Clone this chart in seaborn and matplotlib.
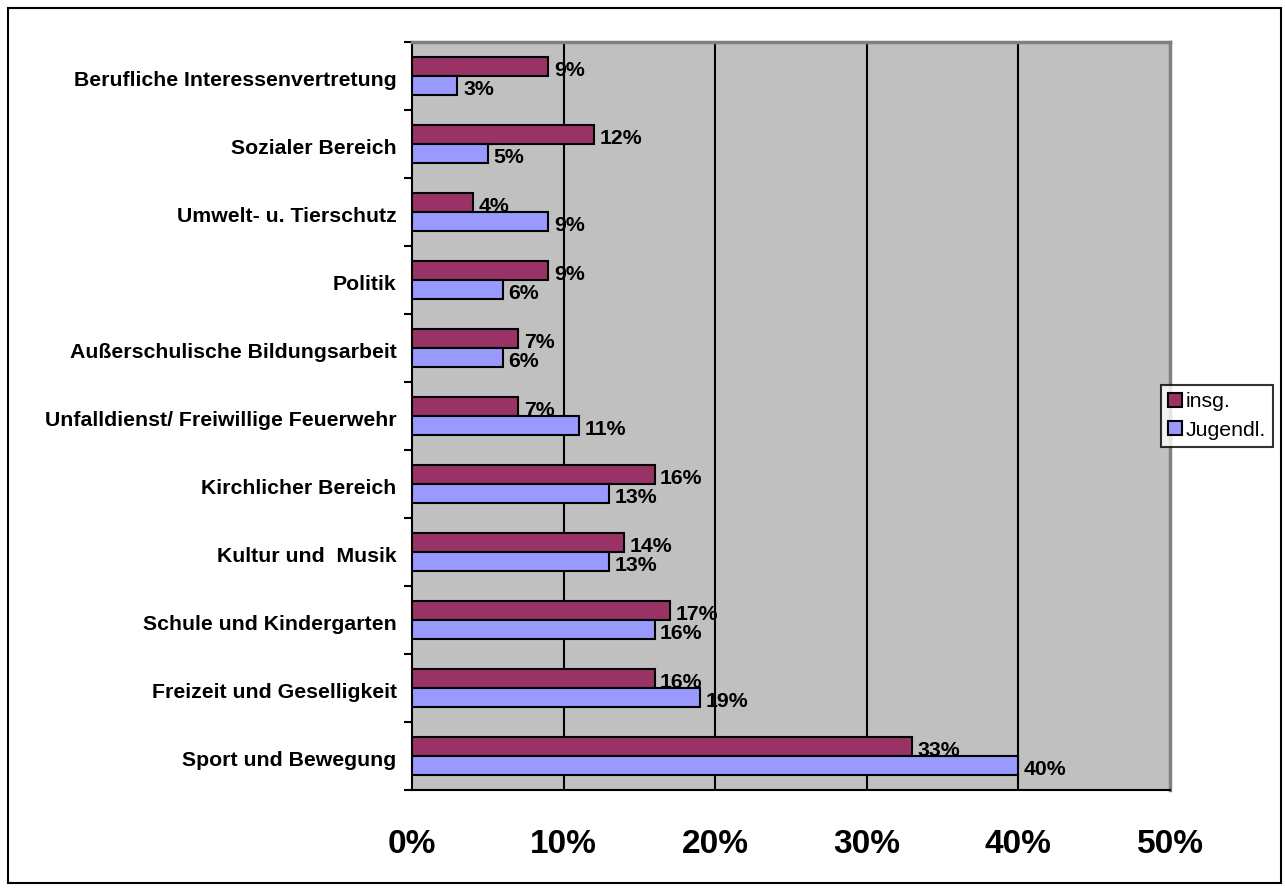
import numpy as np
import pandas as pd
import seaborn as sns
import matplotlib.pyplot as plt
import matplotlib.transforms as mtransforms
from matplotlib.patches import Rectangle, Patch

categories = ["Berufliche Interessenvertretung", "Sozialer Bereich", "Umwelt- u. Tierschutz",
              "Politik", "Außerschulische Bildungsarbeit", "Unfalldienst/ Freiwillige Feuerwehr",
              "Kirchlicher Bereich", "Kultur und  Musik", "Schule und Kindergarten",
              "Freizeit und Geselligkeit", "Sport und Bewegung"]
insg = [9, 12, 4, 9, 7, 7, 16, 14, 17, 16, 33]
jugendl = [3, 5, 9, 6, 6, 11, 13, 13, 16, 19, 40]
series = ["insg.", "Jugendl."]
colors = ["#993366", "#9999FF"]
xticks = [0, 10, 20, 30, 40, 50]

df = pd.DataFrame({
    "Bereich": categories * 2,
    "Wert": insg + jugendl,
    "Gruppe": ["insg."] * len(categories) + ["Jugendl."] * len(categories),
})

sns.set_style("white")
plt.rcParams['font.family'] = ['Liberation Sans', 'DejaVu Sans']
plt.rcParams['text.color'] = 'black'
plt.rcParams['xtick.color'] = 'black'
plt.rcParams['ytick.color'] = 'black'
plt.rcParams['axes.labelcolor'] = 'black'

fig = plt.figure(figsize=(12.85, 8.91), dpi=100)
ax = fig.add_axes([412/1285, 1-790/891, 758/1285, 748/891])
ax.set_facecolor("#C0C0C0")

sns.barplot(data=df, y="Bereich", x="Wert", hue="Gruppe", hue_order=series,
            palette=colors, orient="h", width=0.57, gap=0, saturation=1,
            edgecolor="black", linewidth=1.5, ax=ax, legend=False, zorder=3)

for cont in ax.containers:
    for bar in cont:
        w = bar.get_width()
        ax.annotate(f"{w:.0f}%", (w, bar.get_y() + bar.get_height()/2),
                    xytext=(4, -3), textcoords="offset points", va="center", ha="left",
                    fontsize=15.3, fontweight="bold", color="black", zorder=5)

ax.set_xlim(0, 50)
ax.set_xticks(xticks)
ax.set_xticklabels([f"{t}%" for t in xticks], fontsize=24, fontweight="bold")
ax.tick_params(axis="x", direction="out", length=7, width=1.5, color="black", pad=21)
for t in xticks[1:-1]:
    ax.axvline(t, color="black", lw=1.5, zorder=1)

ax.set_yticks(range(len(categories)))
ax.set_yticklabels(categories, fontsize=15.3, fontweight="bold")
ax.set_yticks(np.arange(-0.5, len(categories), 1), minor=True)
ax.tick_params(axis="y", which="major", length=0, pad=11)
ax.tick_params(axis="y", which="minor", direction="out", length=6, width=1.5, color="black", left=True)
ax.set_ylim(len(categories) - 0.5, -0.5)
ax.set_xlabel("")
ax.set_ylabel("")

# Beschriftungen leicht nach unten schieben
shift = mtransforms.ScaledTranslation(0, -3/100, fig.dpi_scale_trans)
for lab in ax.get_yticklabels():
    lab.set_transform(lab.get_transform() + shift)

for s in ["left", "bottom"]:
    ax.spines[s].set_color("black")
    ax.spines[s].set_linewidth(1.5)
for s in ["top", "right"]:
    ax.spines[s].set_color("#808080")
    ax.spines[s].set_linewidth(2.5)

handles = [Patch(facecolor=c, edgecolor="black", linewidth=1.5) for c in colors]
leg = fig.legend(handles, series, loc="center", bbox_to_anchor=(1217/1285, 1-416/891),
                 fontsize=15.3, frameon=True, fancybox=False, edgecolor="black",
                 handlelength=0.65, handleheight=0.65, handletextpad=0.15, borderpad=0.35,
                 labelspacing=0.45, borderaxespad=0)
leg.get_frame().set_linewidth(1.5)

fig.patches.append(Rectangle((8/1285, 8/891), 1273/1285, 875/891, transform=fig.transFigure,
                             fill=False, edgecolor="black", linewidth=1.5))

fig.savefig("out.png", dpi=100)
